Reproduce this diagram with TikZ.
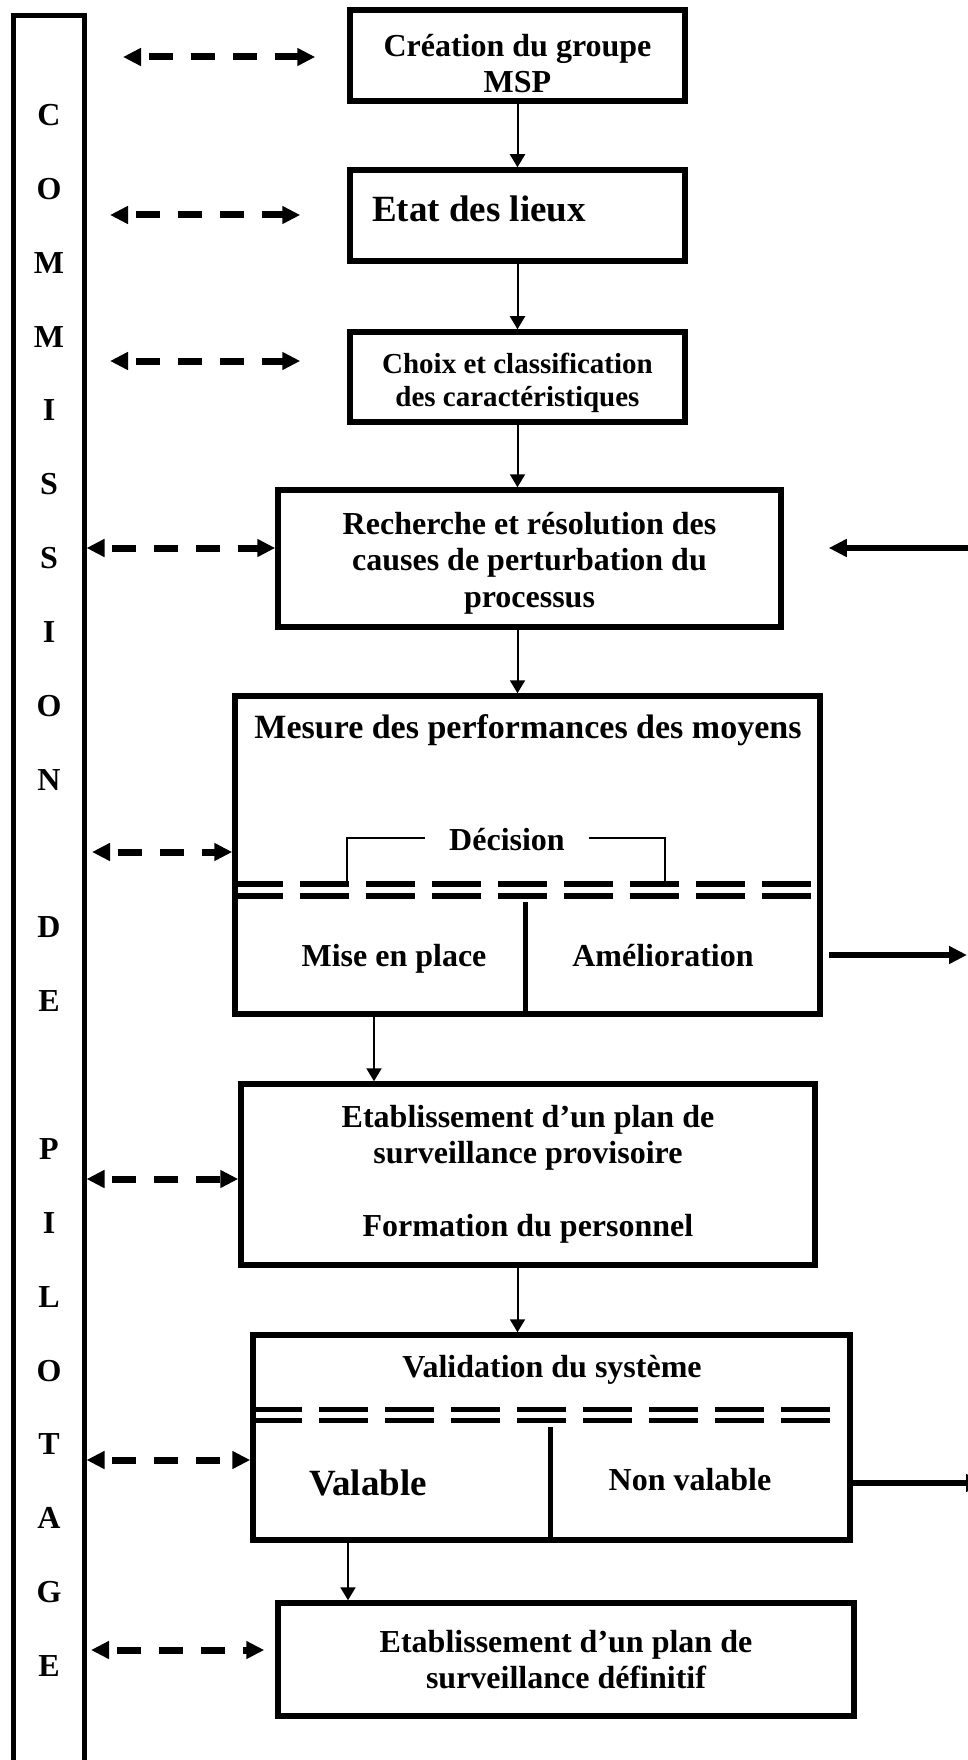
\documentclass[tikz,border=0pt]{standalone}
\usepackage{fontspec}
\setmainfont{Liberation Serif}
\usetikzlibrary{arrows.meta}
\tikzset{
  stage/.style={draw, line width=5.5pt, inner sep=0pt, align=center,
    font=\bfseries\fontsize{32}{36.5}\selectfont},
  lbl/.style={inner sep=0pt, anchor=base, font=\bfseries\fontsize{32}{36.5}\selectfont},
  letter/.style={inner sep=0pt, font=\bfseries\fontsize{32}{36}\selectfont},
  flow/.style={line width=2pt, -{Triangle[length=13pt,width=15pt]}},
  link/.style={line width=7pt, dash pattern=on 24pt off 18pt, dash phase=33pt,
    {Triangle[length=18pt,width=17pt]}-{Triangle[length=18pt,width=17pt]}},
  feed/.style={line width=6pt, -{Triangle[length=18pt,width=17pt]}},
  sep/.style={line width=5.5pt, dash pattern=on 49pt off 17pt},
  rule/.style={line width=5pt},
  hook/.style={line width=1.5pt}
}

\begin{document}
\begin{tikzpicture}[x=1pt,y=-1pt]
      \useasboundingbox (0,0) rectangle (967,1760);

      % commission de pilotage
      \node[draw, line width=5pt, inner sep=0pt, minimum width=71pt, minimum height=1800pt, anchor=north] (bar) at (48.5,13) {};
      \foreach \ch/\k in {C/0,O/1,M/2,M/3,I/4,S/5,S/6,I/7,O/8,N/9,D/11,E/12,P/14,I/15,L/16,O/17,T/18,A/19,G/20,E/21}
        \node[letter] (ch\k) at (49, 115+73.86*\k) {\ch};

      % stages
      \node[stage, minimum width=335pt, minimum height=91pt] (msp) at (517.5,55.5) {\rule{0pt}{38pt}Création du groupe\\MSP};
      \node[stage, minimum width=335pt, minimum height=91pt] (etat) at (517.5,215.5) {};
      \node[lbl, anchor=base west, font=\bfseries\fontsize{37}{40}\selectfont] (etattxt) at (372,221.5) {Etat des lieux};
      \node[stage, minimum width=335pt, minimum height=90pt, font=\bfseries\fontsize{29}{33}\selectfont] (choix) at (517.5,377) {\rule{0pt}{32pt}Choix et classification\\des caractéristiques};
      \node[stage, minimum width=503pt, minimum height=137pt] (causes) at (529.5,558.5) {\rule{0pt}{31pt}Recherche et résolution des\\causes de perturbation du\\processus};

      \node[stage, minimum width=585pt, minimum height=318pt] (mesure) at (527.5,855) {};
      \node[lbl, font=\bfseries\fontsize{34}{38}\selectfont] (mesuretxt) at (528,738) {Mesure des performances des moyens};
      \node[lbl] (decision) at (507,850) {Décision};
      \node[lbl] (miseplace) at (394,966) {Mise en place};
      \node[lbl] (amelio) at (663,966) {Amélioration};
      \draw[hook] (347,881) -- (347,838) -- (425,838);
      \draw[hook] (589,838) -- (665,838) -- (665,881);
      \draw[sep] (234,884) -- (817,884);
      \draw[sep] (234,896) -- (817,896);
      \draw[rule] (525,902) -- (525,1014);

      \node[stage, minimum width=574pt, minimum height=181pt] (provis) at (528,1174.5) {Etablissement d’un plan de\\surveillance provisoire\\[36.5pt]Formation du personnel};

      \node[stage, minimum width=597pt, minimum height=205pt] (valid) at (551.5,1437.5) {};
      \node[lbl] (validtxt) at (552,1377) {Validation du système};
      \node[lbl, font=\bfseries\fontsize{37}{40}\selectfont] (valable) at (368,1495) {Valable};
      \node[lbl] (nonvalable) at (690,1490) {Non valable};
      \draw[sep] (253,1409.5) -- (847,1409.5);
      \draw[sep] (253,1420.5) -- (847,1420.5);
      \draw[rule] (550,1427) -- (550,1540);

      \node[stage, minimum width=576pt, minimum height=113pt] (definitif) at (566,1659.5) {Etablissement d’un plan de\\surveillance définitif};

      % main flow
      \coordinate (j1) at (374,0);
      \coordinate (j2) at (348,0);
      \draw[flow] (msp) -- (etat);
      \draw[flow] (etat) -- (choix);
      \draw[flow] (choix.south) -- (choix.south |- causes.north);
      \draw[flow] (choix.south |- causes.south) -- (choix.south |- mesure.north);
      \draw[flow] (mesure.south -| j1) -- (provis.north -| j1);
      \draw[flow] (choix.south |- provis.south) -- (choix.south |- valid.north);
      \draw[flow] (valid.south -| j2) -- (definitif.north -| j2);

      % links with the commission
      \coordinate (y1) at (0,57);
      \coordinate (y2) at (0,215);
      \coordinate (y3) at (0,361);
      \coordinate (y4) at (0,548);
      \coordinate (y5) at (0,852);
      \coordinate (y6) at (0,1179);
      \coordinate (y7) at (0,1460);
      \coordinate (y8) at (0,1650);
      \draw[link, shorten <=36.5pt, shorten >=32pt] (bar.east |- y1) -- (msp.west |- y1);
      \draw[link, shorten <=23.5pt, shorten >=47pt] (bar.east |- y2) -- (etat.west |- y2);
      \draw[link, shorten <=23.5pt, shorten >=47pt] (bar.east |- y3) -- (choix.west |- y3);
      \draw[link] (bar.east |- y4) -- (causes.west |- y4);
      \draw[link, shorten <=5.5pt] (bar.east |- y5) -- (mesure.west |- y5);
      \draw[link] (bar.east |- y6) -- (provis.west |- y6);
      \draw[link] (bar.east |- y7) -- (valid.west |- y7);
      \draw[link, shorten <=4.5pt, shorten >=11pt] (bar.east |- y8) -- (definitif.west |- y8);

      % loops back
      \coordinate (r1) at (975,548);
      \coordinate (r2) at (967,955);
      \coordinate (r3) at (984,1483);
      \draw[feed, shorten >=45pt] (r1) -- (r1 -| causes.east);
      \draw[feed, shorten <=6pt] (r2 -| mesure.east) -- (r2);
      \draw[feed] (r3 -| valid.east) -- (r3);
\end{tikzpicture}
\end{document}
